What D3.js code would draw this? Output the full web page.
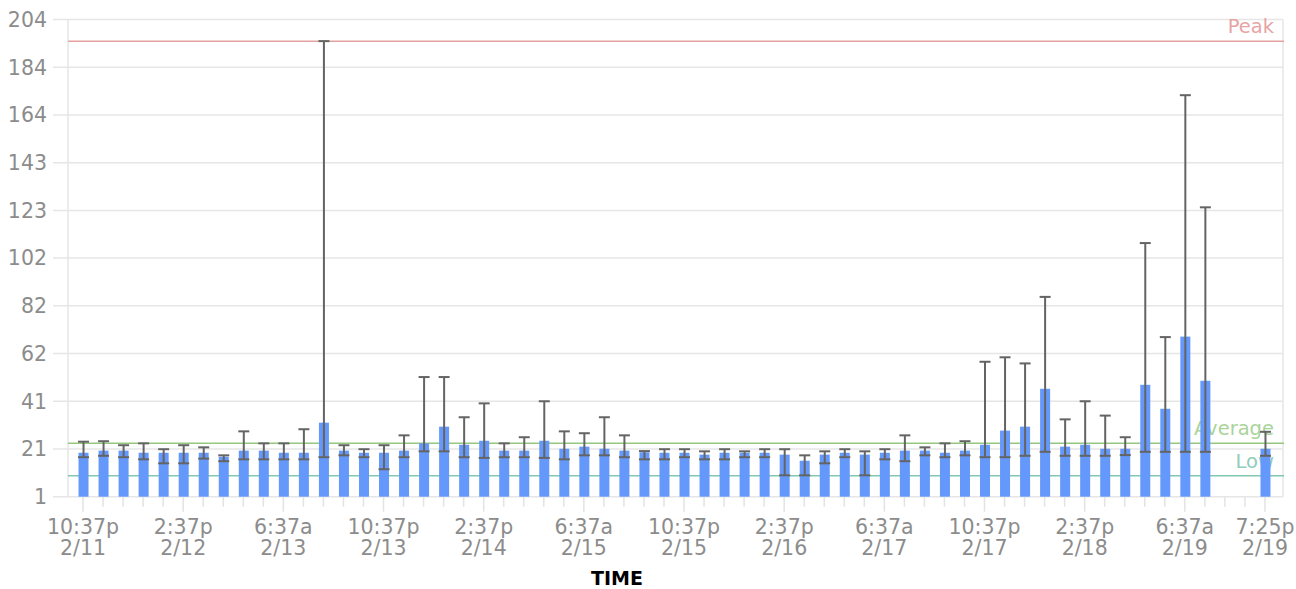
<!DOCTYPE html>
<html>
<head>
<meta charset="utf-8">
<script src="https://cdn.jsdelivr.net/npm/d3@7"></script>
<style>
  body { margin: 0; background: #fff; }
  text { font-family: "DejaVu Sans", sans-serif; }
</style>
</head>
<body>
<div id="chart"></div>
<script>
// data
const avgValues = [19.7, 20.6, 20.6, 19.7, 19.7, 19.7, 19.7, 18.0, 20.6, 20.6,
    19.7, 19.7, 32.5, 20.6, 19.7, 19.7, 20.6, 23.7, 30.8, 23.1,
    24.8, 20.6, 20.6, 24.8, 21.4, 22.3, 21.4, 20.6, 19.9, 19.7,
    19.7, 18.9, 19.7, 19.7, 19.7, 18.9, 16.3, 18.9, 19.7, 18.9,
    19.7, 20.6, 20.6, 19.7, 20.6, 23.1, 29.1, 30.8, 46.9, 22.3,
    23.1, 21.4, 21.4, 48.6, 38.4, 69.1, 50.3, null, null, 21.4];
const minValues = [17.8, 18.4, 17.8, 16.9, 15.2, 15.2, 17.2, 16.1, 16.9, 16.9,
    16.9, 16.9, 17.8, 18.6, 17.8, 12.7, 17.8, 20.3, 20.3, 17.8,
    17.5, 17.8, 17.8, 17.5, 16.9, 18.6, 18.6, 17.8, 16.9, 16.9,
    17.8, 16.9, 16.9, 17.8, 17.8, 10.1, 10.1, 15.2, 17.8, 10.1,
    16.9, 16.1, 18.6, 17.8, 18.6, 17.8, 17.8, 18.4, 20.1, 18.4,
    18.4, 18.4, 18.7, 20.1, 20.1, 20.1, 20.1, null, null, 18.4];
const maxValues = [24.4, 24.6, 22.9, 23.7, 21.2, 22.9, 22.0, 18.6, 28.8, 23.7,
    23.7, 29.7, 194.8, 22.9, 21.2, 22.9, 27.1, 51.9, 51.9, 34.8,
    40.7, 23.7, 26.3, 41.6, 28.8, 28.0, 34.8, 27.1, 20.4, 21.2,
    21.2, 20.3, 21.2, 20.3, 21.2, 21.2, 18.6, 20.3, 21.2, 20.3,
    21.2, 27.1, 22.0, 23.7, 24.6, 58.4, 60.3, 57.7, 86.0, 33.9,
    41.6, 35.5, 26.3, 108.9, 68.9, 171.8, 124.1, null, null, 28.6];

const yTickLabels = ['1', '21', '41', '62', '82', '102', '123', '143', '164', '184', '204'];
const xLabelIndex = [0, 5, 10, 15, 20, 25, 30, 35, 40, 45, 50, 55, 59];
const xLabelTime = ['10:37p', '2:37p', '6:37a', '10:37p', '2:37p', '6:37a', '10:37p',
    '2:37p', '6:37a', '10:37p', '2:37p', '6:37a', '7:25p'];
const xLabelDate = ['2/11', '2/12', '2/13', '2/13', '2/14', '2/15', '2/15',
    '2/16', '2/17', '2/17', '2/18', '2/19', '2/19'];

const refLines = [
    { name: 'Peak', value: 194.8, color: '#e3a1a1', text: '#e6a4a4' },
    { name: 'Average', value: 23.7, color: '#96c77f', text: '#a9d49a' },
    { name: 'Low', value: 9.9, color: '#82c8b0', text: '#8fcdbd' }
];

const width = 1296;
const height = 589;
const plot = { left: 68, right: 1283, top: 19.5, bottom: 496.7 };

const svg = d3.select('#chart')
    .append('svg')
    .attr('width', width)
    .attr('height', height);

const x = d3.scaleLinear()
    .domain([-0.75, 59.9])
    .range([plot.left, plot.right]);

const y = d3.scaleLinear()
    .domain([1, 204])
    .range([plot.bottom, plot.top]);

const yTicks = d3.range(11).map(k => 1 + k * 20.3);

// horizontal grid + y labels
svg.append('g')
    .selectAll('line')
    .data(yTicks)
    .enter()
    .append('line')
    .attr('x1', plot.left - 15)
    .attr('x2', plot.right)
    .attr('y1', d => y(d))
    .attr('y2', d => y(d))
    .style('stroke', '#e6e6e6')
    .style('stroke-width', 1.5);

svg.append('g')
    .selectAll('text')
    .data(yTicks)
    .enter()
    .append('text')
    .attr('x', plot.left - 21)
    .attr('y', d => y(d))
    .attr('dy', '0.36em')
    .attr('text-anchor', 'end')
    .style('font-size', '20.5px')
    .style('fill', '#8c8c8c')
    .text((d, i) => yTickLabels[i]);

// frame sides
svg.append('line')
    .attr('x1', plot.left).attr('x2', plot.left)
    .attr('y1', plot.top).attr('y2', plot.bottom)
    .style('stroke', '#e6e6e6').style('stroke-width', 1.5);
svg.append('line')
    .attr('x1', plot.right).attr('x2', plot.right)
    .attr('y1', plot.top).attr('y2', plot.bottom)
    .style('stroke', '#e6e6e6').style('stroke-width', 1.5);

// x ticks
const allIdx = d3.range(60);
svg.append('g')
    .selectAll('line')
    .data(allIdx)
    .enter()
    .append('line')
    .attr('x1', d => x(d))
    .attr('x2', d => x(d))
    .attr('y1', plot.bottom)
    .attr('y2', d => xLabelIndex.includes(d) ? plot.bottom + 15 : plot.bottom + 10)
    .style('stroke', '#e3e3e3')
    .style('stroke-width', 1.5);

const xLab = svg.append('g')
    .selectAll('text')
    .data(xLabelIndex)
    .enter()
    .append('text')
    .attr('text-anchor', 'middle')
    .style('font-size', '20.5px')
    .style('fill', '#8c8c8c');
xLab.append('tspan')
    .attr('x', d => x(d))
    .attr('y', 533.5)
    .text((d, i) => xLabelTime[i]);
xLab.append('tspan')
    .attr('x', d => x(d))
    .attr('y', 555)
    .text((d, i) => xLabelDate[i]);

// reference lines
const ref = svg.append('g')
    .selectAll('g')
    .data(refLines)
    .enter()
    .append('g');
ref.append('line')
    .attr('x1', plot.left)
    .attr('x2', plot.right + 1)
    .attr('y1', d => y(d.value))
    .attr('y2', d => y(d.value))
    .style('stroke', d => d.color)
    .style('stroke-width', 1.5);

// bars
const barData = allIdx.filter(i => avgValues[i] !== null);
const barW = 10;

svg.append('g')
    .selectAll('rect')
    .data(barData)
    .enter()
    .append('rect')
    .attr('x', d => x(d) - barW / 2 + 0.5)
    .attr('y', d => y(avgValues[d]))
    .attr('width', barW)
    .attr('height', d => plot.bottom - y(avgValues[d]))
    .style('fill', '#6498fb');

// error bars (min / max)
const err = svg.append('g')
    .selectAll('g')
    .data(barData)
    .enter()
    .append('g')
    .style('stroke', '#646464')
    .style('stroke-width', 2);
err.append('line')
    .attr('x1', d => x(d) + 0.5)
    .attr('x2', d => x(d) + 0.5)
    .attr('y1', d => y(minValues[d]))
    .attr('y2', d => y(maxValues[d]));
err.append('line')
    .attr('x1', d => x(d) - 5)
    .attr('x2', d => x(d) + 6)
    .attr('y1', d => y(maxValues[d]))
    .attr('y2', d => y(maxValues[d]));
err.append('line')
    .attr('x1', d => x(d) - 5)
    .attr('x2', d => x(d) + 6)
    .attr('y1', d => y(minValues[d]))
    .attr('y2', d => y(minValues[d]));

// reference labels on top
ref.append('text')
    .attr('x', plot.right - 9)
    .attr('y', d => y(d.value) - 8)
    .attr('text-anchor', 'end')
    .style('font-size', '19.5px')
    .style('fill', d => d.text)
    .text(d => d.name);

// axis title
svg.append('text')
    .attr('x', 617)
    .attr('y', 585)
    .attr('text-anchor', 'middle')
    .style('font-size', '19px')
    .style('font-weight', 'bold')
    .style('fill', '#000')
    .text('TIME');
</script>
</body>
</html>
